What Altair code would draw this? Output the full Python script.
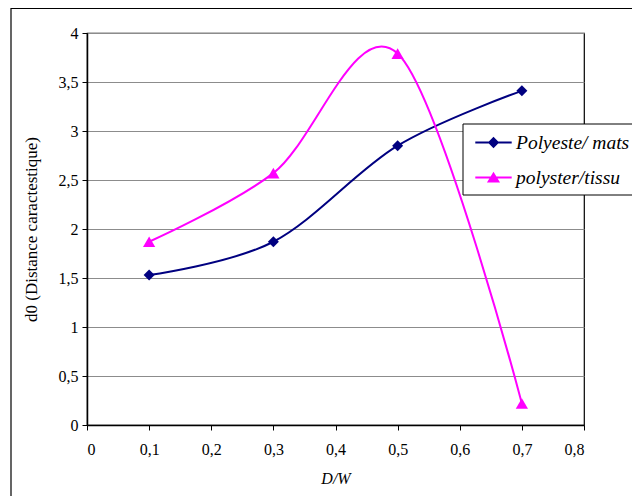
import altair as alt
import pandas as pd

x_vals = [0.1, 0.3, 0.5, 0.7]
mats = [1.53, 1.87, 2.85, 3.41]
tissu = [1.87, 2.57, 3.79, 0.22]
series_names = ["Polyeste/ mats", "polyster/tissu"]
colors = ["#000080", "#FF00FF"]
x_ticks = [0, 0.1, 0.2, 0.3, 0.4, 0.5, 0.6, 0.7, 0.8]
y_ticks = [0, 0.5, 1, 1.5, 2, 2.5, 3, 3.5, 4]

df = pd.DataFrame(
    {"x": x_vals * 2,
     "y": mats + tissu,
     "series": [series_names[0]] * 4 + [series_names[1]] * 4}
)

FONT = "Liberation Serif"
LBL = "replace(format(datum.value, '~g'), '.', ',')"

x_enc = alt.X("x:Q", scale=alt.Scale(domain=[0, 0.8], nice=False),
              axis=alt.Axis(values=x_ticks, labelExpr=LBL, title="D/W",
                            titleFontStyle="italic", titlePadding=13,
                            labelPadding=11, grid=False))
y_enc = alt.Y("y:Q", scale=alt.Scale(domain=[0, 4], nice=False),
              axis=alt.Axis(values=y_ticks, labelExpr=LBL,
                            title="d0 (Distance caractestique)", titlePadding=18,
                            titleFontSize=17, labelPadding=4, grid=True))

color_scale = alt.Scale(domain=series_names, range=colors)

bar = "M-1,-0.06H1V0.06H-1Z"
diamond_path = bar + "M0,-0.31L0.31,0L0,0.31L-0.31,0Z"
tri_path = bar + "M0,-0.32L0.36,0.28L-0.36,0.28Z"

legend = alt.Legend(
    title=None, orient="none", legendX=388, legendY=91,
    labelFont=FONT, labelFontSize=19.5, labelFontStyle="italic", labelColor="black",
    labelOffset=4, symbolSize=1325, symbolStrokeWidth=0, symbolOpacity=1,
    rowPadding=7, padding=0, labelLimit=400,
)

frame = alt.Chart(pd.DataFrame({"a": [0]})).mark_rect(
    fill="transparent", stroke="black", strokeWidth=1.2
).encode(x=alt.value(-76), x2=alt.value(600), y=alt.value(-24.5), y2=alt.value(500))

legend_box = alt.Chart(pd.DataFrame({"a": [0]})).mark_rect(
    fill="white", stroke="black", strokeWidth=1
).encode(x=alt.value(376), x2=alt.value(600), y=alt.value(91), y2=alt.value(162))

lines = alt.Chart(df).mark_line(interpolate="cardinal", tension=0, strokeWidth=2).encode(
    x=x_enc, y=y_enc,
    color=alt.Color("series:N", scale=color_scale, legend=legend),
)

legend_layer = alt.Chart(df).mark_point(filled=True, opacity=0).encode(
    x=x_enc, y=y_enc,
    color=alt.Color("series:N", scale=color_scale, legend=legend),
    shape=alt.Shape("series:N", scale=alt.Scale(domain=series_names, range=[diamond_path, tri_path]), legend=legend),
)

mats_pts = alt.Chart(df).transform_filter(alt.datum.series == series_names[0]).mark_point(
    filled=True, opacity=1, shape="diamond", size=120
).encode(x=x_enc, y=y_enc, color=alt.Color("series:N", scale=color_scale, legend=legend))

tissu_pts = alt.Chart(df).transform_filter(alt.datum.series == series_names[1]).mark_point(
    filled=True, opacity=1, shape="triangle-up", size=150
).encode(x=x_enc, y=y_enc, color=alt.Color("series:N", scale=color_scale, legend=legend))

chart = alt.layer(frame, legend_box, lines, legend_layer, mats_pts, tissu_pts).properties(
    width=497, height=392,
    autosize=alt.AutoSizeParams(type="none"),
    padding={"left": 79, "top": 25, "right": 48, "bottom": 71},
    background="white",
).configure_view(stroke="black", strokeWidth=1.2).configure_axis(
    labelFont=FONT, labelFontSize=16, labelColor="black",
    titleFont=FONT, titleFontSize=16, titleFontWeight="normal", titleColor="black",
    tickSize=5, tickColor="black", tickWidth=1,
    domainColor="black", domainWidth=1.5,
    gridColor="#8c8c8c", gridWidth=1,
)

chart.save("out.html", embed_options={"renderer": "svg", "actions": False})
